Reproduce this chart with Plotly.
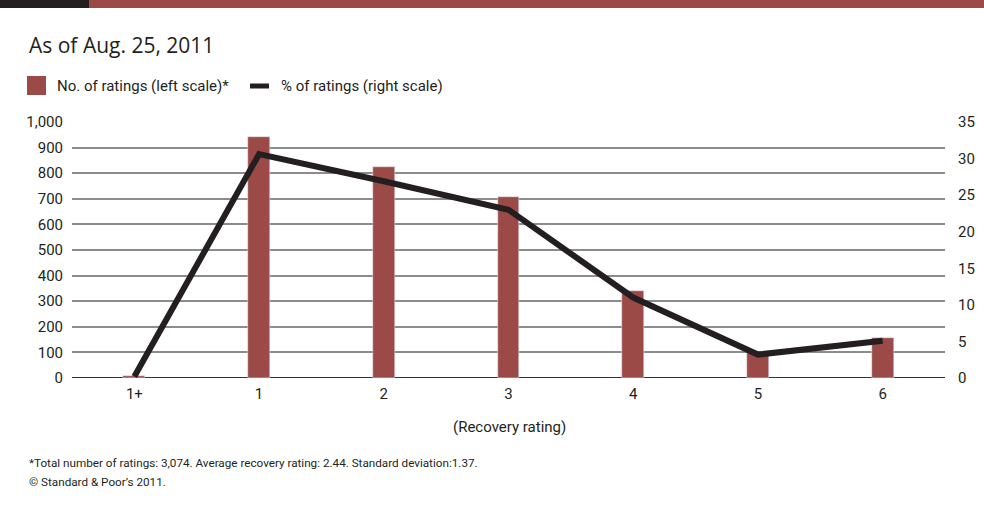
import plotly.graph_objects as go

categories = ["1+", "1", "2", "3", "4", "5", "6"]
num_ratings = [6, 940, 826, 708, 338, 98, 158]
pct_ratings = [0.2, 30.6, 26.9, 23.0, 11.0, 3.2, 5.1]
left_ticks = [0, 100, 200, 300, 400, 500, 600, 700, 800, 900, 1000]
left_labels = ["0", "100", "200", "300", "400", "500", "600", "700", "800", "900", "1,000"]
right_ticks = [0, 5, 10, 15, 20, 25, 30, 35]

RED = "#9b4a48"
DARK = "#231f20"
FONT = "Roboto, Liberation Sans, sans-serif"
W, H = 984, 514
L, R, T, B = 72, 945, 122, 378


def px(x):
    return (x - L) / (R - L)


def py(y):
    return (B - y) / (B - T)


fig = go.Figure()
fig.add_trace(go.Bar(x=categories, y=num_ratings, marker_color=RED, width=0.176,
                     name="No. of ratings (left scale)*", yaxis="y"))
fig.add_trace(go.Scatter(x=categories, y=pct_ratings, mode="lines",
                         line=dict(color=DARK, width=6), name="% of ratings (right scale)",
                         yaxis="y2"))

shapes = [
    dict(type="rect", xref="paper", yref="paper", x0=px(0), x1=px(89), y0=py(0), y1=py(8),
         fillcolor=DARK, line_width=0, layer="above"),
    dict(type="rect", xref="paper", yref="paper", x0=px(89), x1=px(984), y0=py(0), y1=py(8),
         fillcolor=RED, line_width=0, layer="above"),
    dict(type="rect", xref="paper", yref="paper", x0=px(27), x1=px(46), y0=py(76), y1=py(95),
         fillcolor=RED, line_width=0),
    dict(type="line", xref="paper", yref="paper", x0=px(250), x1=px(269), y0=py(86), y1=py(86),
         line=dict(color=DARK, width=5)),
    dict(type="line", xref="paper", yref="y", x0=0, x1=1, y0=0, y1=0,
         line=dict(color="#333333", width=2), layer="below"),
]

annotations = [
    dict(text="As of Aug. 25, 2011", xref="paper", yref="paper", x=px(27), y=py(45),
         xanchor="left", yanchor="middle", showarrow=False,
         font=dict(family="Open Sans, Liberation Sans, sans-serif", size=21, color=DARK)),
    dict(text="No. of ratings (left scale)*", xref="paper", yref="paper", x=px(55), y=py(86),
         xanchor="left", yanchor="middle", showarrow=False,
         font=dict(family=FONT, size=15, color=DARK)),
    dict(text="% of ratings (right scale)", xref="paper", yref="paper", x=px(279), y=py(86),
         xanchor="left", yanchor="middle", showarrow=False,
         font=dict(family=FONT, size=15, color=DARK)),
    dict(text="(Recovery rating)", xref="paper", yref="paper", x=px(509), y=py(427),
         xanchor="center", yanchor="middle", showarrow=False,
         font=dict(family=FONT, size=15, color=DARK)),
    dict(text="*Total number of ratings: 3,074. Average recovery rating: 2.44. Standard deviation:1.37.",
         xref="paper", yref="paper", x=px(27), y=py(463), xanchor="left", yanchor="middle",
         showarrow=False, font=dict(family=FONT, size=11.7, color=DARK)),
    dict(text="© Standard & Poor’s 2011.",
         xref="paper", yref="paper", x=px(27), y=py(482), xanchor="left", yanchor="middle",
         showarrow=False, font=dict(family=FONT, size=11.7, color=DARK)),
]

fig.update_layout(
    width=W, height=H,
    margin=dict(l=L, r=W - R, t=T, b=H - B, pad=0),
    paper_bgcolor="white", plot_bgcolor="white",
    showlegend=False,
    font=dict(family=FONT, size=15, color=DARK),
    xaxis=dict(type="category", range=[-0.5, 6.5], showgrid=False, showline=False,
               ticks="", ticklabelstandoff=5, tickfont=dict(size=15, color=DARK),
               fixedrange=True, automargin=False),
    yaxis=dict(range=[0, 1000], tickvals=left_ticks, ticktext=left_labels,
               showgrid=True, gridcolor="#8c8c8c", gridwidth=1.5, zeroline=False,
               showline=False, ticks="", ticklabelstandoff=8, automargin=False,
               tickfont=dict(size=15, color=DARK)),
    yaxis2=dict(range=[0, 35], tickvals=right_ticks, overlaying="y", side="right",
                showgrid=False, zeroline=False, showline=False, ticks="",
                ticklabelstandoff=12, automargin=False,
                tickfont=dict(size=15, color=DARK)),
    shapes=shapes,
    annotations=annotations,
    bargap=0,
)

fig.write_html("out.html")
